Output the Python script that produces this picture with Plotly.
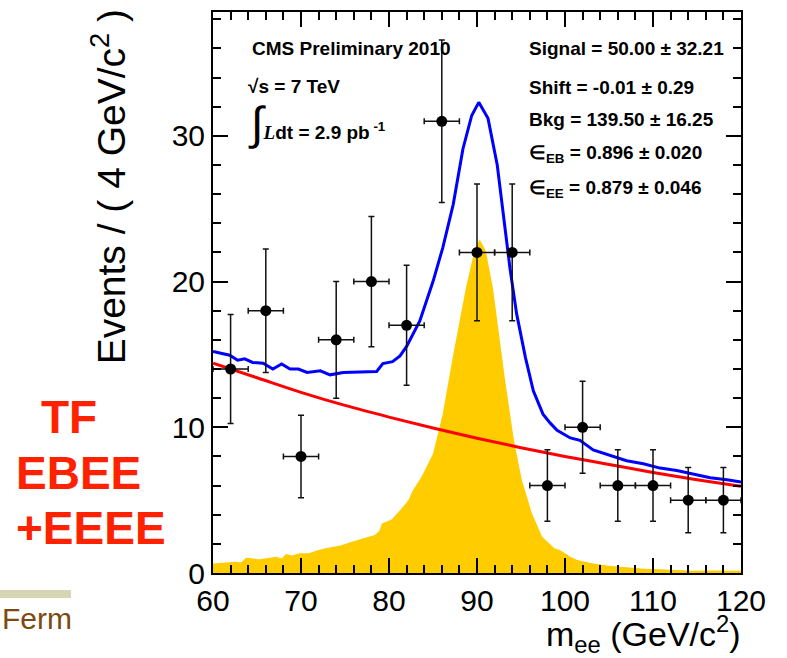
import plotly.graph_objects as go

# ---------------- data ----------------
bin_centers = [62, 66, 70, 74, 78, 82, 86, 90, 94, 98, 102, 106, 110, 114, 118]
counts = [14, 18, 8, 16, 20, 17, 31, 22, 22, 6, 10, 6, 6, 5, 5]
count_err = [3.74, 4.24, 2.83, 4.00, 4.47, 4.12, 5.57, 4.69, 4.69, 2.45, 3.16, 2.45, 2.45, 2.24, 2.24]
bin_half_width = [2] * 15

total_x = [60.0, 61.0, 61.9, 62.8, 63.6, 64.5, 65.7, 66.8, 67.8, 68.75, 69.7, 70.7, 72.2, 73.3,
           74.8, 76.7, 78.6, 79.3, 80.4, 81.25, 82.0, 83.5, 85.0, 86.1, 87.3, 88.4, 89.4, 90.2,
           91.25, 92.3, 93.0, 93.75, 94.5, 95.5, 96.4, 97.5, 98.3, 99.1, 100.6, 101.7, 103.2,
           105.1, 107.0, 108.9, 110.8, 112.7, 114.5, 116.5, 118.4, 120.0]
total_y = [15.2, 15.05, 14.95, 14.6, 14.7, 14.45, 14.4, 14.0, 14.35, 14.0, 14.0, 13.76, 13.88, 13.6,
           13.76, 13.8, 13.83, 14.37, 14.5, 14.9, 15.55, 17.3, 20.0, 22.3, 25.3, 29.1, 31.4, 32.3,
           31.2, 28.0, 24.6, 20.9, 17.8, 14.8, 12.5, 10.9, 10.3, 9.8, 9.27, 9.1, 8.45,
           8.07, 7.7, 7.5, 7.2, 7.04, 6.8, 6.54, 6.4, 6.24]

bkg_x = [60, 65, 70, 75, 80, 85, 90, 95, 100, 105, 110, 115, 120]
bkg_y = [14.4, 13.4, 12.4, 11.5, 10.7, 9.95, 9.25, 8.6, 8.0, 7.45, 6.9, 6.4, 5.95]

sig_x = [60, 61, 62.6, 63.2, 63.75, 65.3, 66.2, 67.2, 67.8, 68.3, 69.0, 69.8, 70.9, 71.8, 72.8,
         73.6, 74.6, 75.5, 76.5, 77.5, 78.4, 78.9, 79.2, 80.3, 81.25, 82.2, 82.7, 83.7, 85.0,
         86.1, 87.3, 88.75, 89.7, 90.3, 91.0, 91.8, 92.5, 93.2, 94.2, 95.1, 96.25, 97.4, 98.8,
         99.4, 100.0, 100.6, 101.4, 103.2, 105.0, 107.0, 109.0, 110.8, 112.5, 114.5, 117.0, 120.0]
sig_y = [0.66, 0.7, 0.77, 0.72, 1.05, 0.94, 1.0, 1.11, 1.0, 1.3, 1.2, 1.35, 1.35, 1.55, 1.69,
         1.8, 1.9, 2.1, 2.25, 2.45, 2.6, 2.9, 3.4, 3.67, 4.3, 5.0, 5.67, 6.6, 8.18,
         10.9, 15.0, 19.6, 22.1, 22.9, 22.1, 19.6, 16.4, 13.2, 9.1, 6.36, 4.08, 2.48, 1.69,
         1.57, 1.35, 1.11, 0.89, 0.66, 0.5, 0.39, 0.3, 0.25, 0.2, 0.16, 0.18, 0.16]

x_range = [60, 120]
y_range = [0, 38.5]

fit_lines_left = ["CMS Preliminary 2010", "&#8730;s = 7 TeV",
                  "<span style='font-size:46px;font-weight:normal'>&#8747;</span><i style='font-family:Liberation Serif'>L</i>dt = 2.9 pb<sup> -1</sup>"]
fit_lines_right = ["Signal = 50.00 ± 32.21", "Shift = -0.01 ± 0.29", "Bkg = 139.50 ± 16.25",
                   "&#8712;<sub>EB</sub> = 0.896 ± 0.020", "&#8712;<sub>EE</sub> = 0.879 ± 0.046"]

# ---------------- figure ----------------
W, H = 787, 658
L, R, T, B = 213, 46, 10, 85
pw, ph = W - L - R, H - T - B


def px(xp):
    return (xp - L) / pw


def py(yp):
    return (H - B - yp) / ph


fig = go.Figure()
fig.add_trace(go.Scatter(x=sig_x, y=sig_y, mode="lines", fill="tozeroy",
                         line=dict(width=0, color="#ffcc00"), fillcolor="#ffcc00",
                         hoverinfo="skip", showlegend=False))
fig.add_trace(go.Scatter(x=bkg_x, y=bkg_y, mode="lines", line=dict(color="#ff0000", width=3, shape="spline"),
                         showlegend=False))
fig.add_trace(go.Scatter(x=total_x, y=total_y, mode="lines", line=dict(color="#0000ff", width=3),
                         showlegend=False))
fig.add_trace(go.Scatter(x=bin_centers, y=counts, mode="markers",
                         marker=dict(color="black", size=11),
                         error_y=dict(type="data", array=count_err, color="#111", thickness=1.5, width=3),
                         error_x=dict(type="data", array=bin_half_width, color="#111", thickness=1.5, width=3),
                         showlegend=False))

axis_common = dict(showline=True, linewidth=2, linecolor="black", mirror="allticks",
                   ticks="inside", ticklen=15, tickwidth=1.5, tickcolor="black",
                   showgrid=False, zeroline=False,
                   tickfont=dict(family="Liberation Sans", size=30, color="black"),
                   minor=dict(ticks="inside", ticklen=8, tickwidth=1.5, tickcolor="black", dtick=2, showgrid=False))

fig.update_xaxes(range=x_range, dtick=10, tick0=60, **axis_common)
fig.update_yaxes(range=y_range, dtick=10, tick0=0, **axis_common)

ann = []
# stat boxes
for t, xp, yp in zip(fit_lines_left, [250, 246, 246], [47, 85, 121]):
    ann.append(dict(text="<b>" + t + "</b>", x=px(xp), y=py(yp), xref="paper", yref="paper",
                    xanchor="left", yanchor="middle", showarrow=False,
                    font=dict(family="Liberation Sans", size=19, color="black")))
for t, yp in zip(fit_lines_right, [47, 86, 118, 153, 188]):
    ann.append(dict(text="<b>" + t + "</b>", x=px(527), y=py(yp), xref="paper", yref="paper",
                    xanchor="left", yanchor="middle", showarrow=False,
                    font=dict(family="Liberation Sans", size=19, color="black")))
# axis titles
ann.append(dict(text="m<sub>ee</sub> (GeV/c<sup>2</sup>)", x=px(743), y=py(634), xref="paper", yref="paper",
                xanchor="right", yanchor="middle", showarrow=False,
                font=dict(family="Liberation Sans", size=34, color="black")))
ann.append(dict(text="Events / ( 4 GeV/c<sup>2</sup> )", x=px(108), y=py(186), xref="paper", yref="paper",
                xanchor="center", yanchor="middle", textangle=-90, showarrow=False,
                font=dict(family="Liberation Sans", size=39, color="black")))
# red labels on the left
for t, xc, yc in [("TF", 69, 416), ("EBEE", 78, 473), ("+EEEE", 91, 528)]:
    ann.append(dict(text="<b>" + t + "</b>", x=px(xc), y=py(yc), xref="paper", yref="paper",
                    xanchor="center", yanchor="middle", showarrow=False,
                    font=dict(family="Liberation Sans", size=46, color="#ff2200")))
ann.append(dict(text="Ferm", x=px(0), y=py(619), xref="paper", yref="paper",
                xanchor="left", yanchor="middle", showarrow=False,
                font=dict(family="Liberation Sans", size=30, color="#7b4a12")))

shapes = [dict(type="rect", xref="paper", yref="paper", x0=px(0), x1=px(71), y0=py(598), y1=py(590),
               fillcolor="#d6d6b4", line=dict(width=0), layer="above")]

fig.update_layout(width=W, height=H, margin=dict(l=L, r=R, t=T, b=B),
                  plot_bgcolor="white", paper_bgcolor="white",
                  annotations=ann, shapes=shapes, showlegend=False)

fig.write_html("out.html")
